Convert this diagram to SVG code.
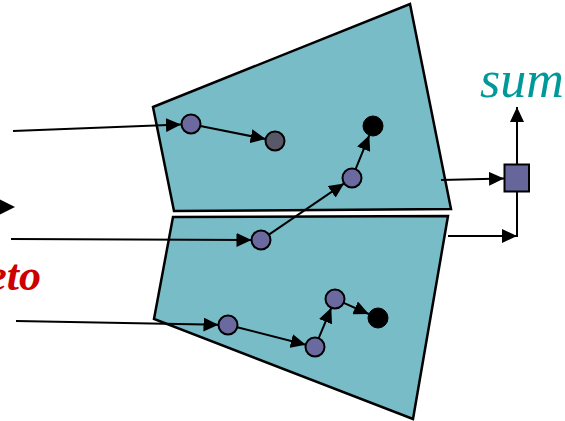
<svg xmlns="http://www.w3.org/2000/svg" width="565" height="421" viewBox="0 0 565 421">
<style>
.region{fill:#78bcc8;stroke:#000;stroke-width:2.5;stroke-linejoin:miter}
.edge{fill:none;stroke:#000;stroke-width:2;marker-end:url(#ah)}
.plain{fill:none;stroke:#000;stroke-width:2}
.node{fill:#6a6aa0;stroke:#000;stroke-width:2}
.gray{fill:#585868;stroke:#000;stroke-width:2}
.sink{fill:#000;stroke:#000;stroke-width:1}
</style>
<defs>
<marker id="ah" markerUnits="userSpaceOnUse" markerWidth="15" markerHeight="14" refX="15" refY="7" orient="auto">
<polygon points="0,0 15,7 0,14" fill="#000"/>
</marker>
</defs>
<g id="region-top"><polygon class="region" points="153,107 410,4 451,209 174,211"/></g>
<g id="region-bottom"><polygon class="region" points="173,217 448,216 413,419 154,319"/></g>
<g id="connectors">
<line class="edge" x1="13" y1="131" x2="181" y2="124.5"/>
<line class="edge" x1="200.3" y1="125.9" x2="265.7" y2="139.1"/>
<line class="edge" x1="11" y1="239" x2="251.5" y2="240"/>
<line class="edge" x1="268.9" y1="234.6" x2="344.1" y2="183.4"/>
<line class="edge" x1="355.6" y1="169.2" x2="369.3" y2="135.3"/>
<line class="edge" x1="16" y1="321" x2="218.5" y2="324.8"/>
<line class="edge" x1="237.2" y1="327.3" x2="305.8" y2="344.7"/>
<line class="edge" x1="318.7" y1="338.2" x2="331.3" y2="307.8"/>
<line class="edge" x1="343.7" y1="302.8" x2="368.8" y2="314"/>
<line class="edge" x1="441" y1="180" x2="504" y2="178.5"/>
<line class="edge" x1="517" y1="164" x2="517" y2="107"/>
<line class="edge" x1="448" y1="236" x2="517" y2="236"/>
<line class="plain" x1="517" y1="237" x2="517" y2="192"/>
<polygon points="-3,198 15,207 -3,216" fill="#000"/>
</g>
<g id="n1"><circle class="node" cx="191" cy="124" r="9.5"/></g>
<g id="n2"><circle class="gray" cx="275" cy="141" r="9.5"/></g>
<g id="n3"><circle class="node" cx="261" cy="240" r="9.5"/></g>
<g id="n4"><circle class="node" cx="352" cy="178" r="9.5"/></g>
<g id="n5"><circle class="sink" cx="373" cy="126" r="10"/></g>
<g id="n6"><circle class="node" cx="228" cy="325" r="9.5"/></g>
<g id="n7"><circle class="node" cx="315" cy="347" r="9.5"/></g>
<g id="n8"><circle class="node" cx="335" cy="299" r="9.5"/></g>
<g id="n9"><circle class="sink" cx="378" cy="318" r="10"/></g>
<g id="sum-node"><rect x="504.5" y="164.5" width="24.5" height="27" fill="#66669a" stroke="#000" stroke-width="2"/></g>
<g id="labels">
<text x="480" y="97" font-family="Liberation Serif, serif" font-style="italic" font-size="52" fill="#009999">sum</text>
<text x="41" y="290" text-anchor="end" font-family="Liberation Serif, serif" font-style="italic" font-weight="bold" font-size="44" fill="#cc0000">eto</text>
</g>
</svg>
